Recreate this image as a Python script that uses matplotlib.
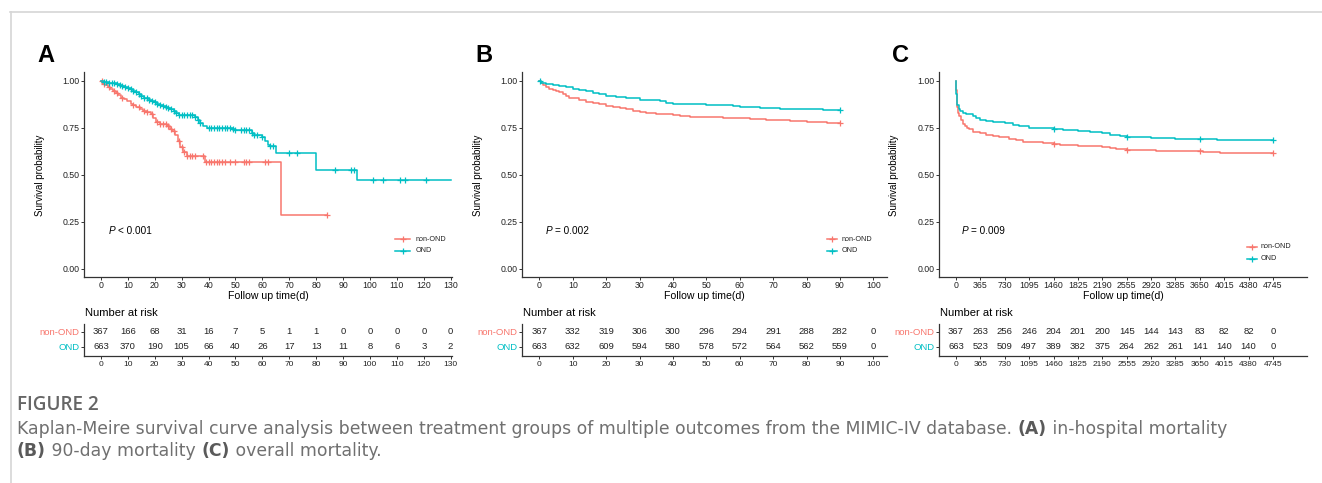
import numpy as np
import matplotlib
matplotlib.use("Agg")
import matplotlib.pyplot as plt
from matplotlib.lines import Line2D

plt.rcParams['font.family'] = ['Liberation Sans', 'DejaVu Sans']

RED = '#F8766D'
TEAL = '#00BFC4'
groups = ['non-OND', 'OND']

# ---------------- Panel A: in-hospital mortality ----------------
a_red_t = [0, 0.5, 1, 1.5, 2.5, 3.5, 4.5, 5.5, 6.5, 7.5, 8.5, 9.5, 11, 12, 13, 14.5, 15.5, 17, 18.5, 19.5,
           20.5, 22, 24.5, 25.5, 26.5, 27.5, 28.5, 29.5, 30.5, 32, 38.5, 67]
a_red_s = [1.0, 0.99, 0.98, 0.975, 0.965, 0.955, 0.945, 0.935, 0.925, 0.91, 0.90, 0.89, 0.875, 0.87, 0.86,
           0.85, 0.84, 0.835, 0.82, 0.80, 0.78, 0.77, 0.76, 0.745, 0.73, 0.71, 0.68, 0.645, 0.62, 0.60, 0.567, 0.285]
a_red_end = 84
a_red_cens = [0.3, 1, 3, 5, 6, 8, 12, 14, 16, 17, 19, 21, 22, 23, 24, 25, 26, 27, 29, 30, 31, 32, 33, 34, 35,
              38, 39, 40, 41, 42, 43, 44, 45, 46, 48, 50, 53, 54, 55, 61, 62, 84]
a_teal_t = [0, 1, 3, 5, 6, 7, 8, 9, 10, 11, 12, 13, 14, 15, 16, 17, 18, 19, 20, 21, 22, 23, 24, 25, 26, 27,
            28, 29, 35, 36, 37, 38, 39.5, 49, 50, 56, 57, 60, 61, 62, 63, 65, 80, 95]
a_teal_s = [1.0, 0.995, 0.99, 0.985, 0.98, 0.975, 0.97, 0.965, 0.96, 0.955, 0.945, 0.94, 0.93, 0.92, 0.91,
            0.905, 0.895, 0.89, 0.885, 0.875, 0.87, 0.865, 0.86, 0.855, 0.85, 0.84, 0.83, 0.815, 0.805, 0.79,
            0.775, 0.76, 0.75, 0.74, 0.735, 0.72, 0.71, 0.70, 0.68, 0.66, 0.65, 0.615, 0.525, 0.47]
a_teal_end = 130
a_teal_cens = [1, 2, 3, 4, 5, 6, 7, 8, 9, 10, 11, 12, 13, 14, 15, 16, 17, 18, 19, 20, 21, 22, 23, 24, 25, 26,
               27, 28, 29, 30, 31, 32, 33, 34, 35, 36, 37, 40, 41, 42, 43, 44, 45, 46, 47, 48, 49, 50, 52, 53,
               54, 55, 56, 57, 58, 60, 63, 64, 70, 73, 87, 93, 94, 101, 105, 111, 113, 121]
a_ticks = list(range(0, 131, 10))
a_risk_red = [367, 166, 68, 31, 16, 7, 5, 1, 1, 0, 0, 0, 0, 0]
a_risk_teal = [663, 370, 190, 105, 66, 40, 26, 17, 13, 11, 8, 6, 3, 2]
a_ptxt = '< 0.001'

# ---------------- Panel B: 90-day mortality ----------------
b_red_t = [0, 0.5, 1, 2, 3, 4, 5, 6, 7, 8, 9, 10, 12, 14, 16, 18, 20, 22, 24, 26, 28, 30, 32, 35, 38, 40, 42,
           45, 50, 55, 56, 60, 63, 66, 68, 72, 75, 80, 84, 86, 88]
b_red_s = [1.0, 0.985, 0.975, 0.965, 0.955, 0.95, 0.945, 0.94, 0.93, 0.92, 0.91, 0.905, 0.895, 0.885, 0.88,
           0.875, 0.865, 0.86, 0.855, 0.85, 0.84, 0.835, 0.83, 0.825, 0.82, 0.815, 0.81, 0.808, 0.805, 0.803,
           0.8, 0.8, 0.798, 0.795, 0.79, 0.788, 0.785, 0.782, 0.778, 0.775, 0.773]
b_red_end = 90
b_red_cens = [90]
b_teal_t = [0, 0.5, 1, 2, 4, 6, 8, 10, 12, 14, 16, 18, 20, 23, 26, 28, 30, 33, 36, 38, 40, 45, 50, 55, 58, 60,
            63, 66, 68, 72, 78, 82, 85, 88]
b_teal_s = [1.0, 0.99, 0.985, 0.98, 0.975, 0.97, 0.965, 0.955, 0.95, 0.945, 0.935, 0.93, 0.92, 0.915, 0.91,
            0.905, 0.897, 0.895, 0.89, 0.883, 0.878, 0.875, 0.87, 0.868, 0.865, 0.862, 0.858, 0.855, 0.852,
            0.85, 0.85, 0.848, 0.846, 0.845]
b_teal_end = 90
b_teal_cens = [0.1, 90]
b_ticks = list(range(0, 101, 10))
b_risk_red = [367, 332, 319, 306, 300, 296, 294, 291, 288, 282, 0]
b_risk_teal = [663, 632, 609, 594, 580, 578, 572, 564, 562, 559, 0]
b_ptxt = '= 0.002'

# ---------------- Panel C: overall mortality ----------------
c_red_t = [0, 5, 10, 20, 30, 50, 75, 100, 130, 160, 200, 250, 365, 450, 550, 650, 730, 800, 900, 1000, 1095,
           1300, 1460, 1550, 1700, 1825, 2000, 2190, 2300, 2400, 2555, 2800, 3000, 3285, 3500, 3700, 3950]
c_red_s = [1.0, 0.95, 0.9, 0.86, 0.83, 0.81, 0.79, 0.77, 0.76, 0.75, 0.74, 0.725, 0.72, 0.71, 0.705, 0.70,
           0.698, 0.69, 0.685, 0.675, 0.672, 0.67, 0.665, 0.66, 0.655, 0.652, 0.65, 0.647, 0.64, 0.635, 0.633,
           0.63, 0.628, 0.625, 0.623, 0.62, 0.613]
c_red_end = 4745
c_red_cens = [1460, 2555, 3650, 4745]
c_teal_t = [0, 5, 10, 20, 40, 60, 100, 150, 200, 250, 300, 365, 450, 550, 730, 850, 950, 1095, 1300, 1460,
            1600, 1825, 2000, 2190, 2300, 2450, 2555, 2700, 2920, 3285, 3500, 3700, 3900]
c_teal_s = [1.0, 0.93, 0.89, 0.87, 0.85, 0.84, 0.83, 0.825, 0.82, 0.81, 0.80, 0.79, 0.783, 0.778, 0.775,
            0.765, 0.757, 0.75, 0.748, 0.745, 0.737, 0.73, 0.725, 0.72, 0.712, 0.705, 0.702, 0.698, 0.695,
            0.692, 0.69, 0.687, 0.685]
c_teal_end = 4745
c_teal_cens = [1460, 2555, 3650, 4745]
c_ticks = list(range(0, 4746, 365))
c_risk_red = [367, 263, 256, 246, 204, 201, 200, 145, 144, 143, 83, 82, 82, 0]
c_risk_teal = [663, 523, 509, 497, 389, 382, 375, 264, 262, 261, 141, 140, 140, 0]
c_ptxt = '= 0.009'

caption_title = 'FIGURE 2'
caption_line1 = [('Kaplan-Meire survival curve analysis between treatment groups of multiple outcomes from the MIMIC-IV database. ', False),
                 ('(A)', True), (' in-hospital mortality', False)]
caption_line2 = [('(B)', True), (' 90-day mortality ', False), ('(C)', True), (' overall mortality.', False)]

W, H = 1322, 483
fig = plt.figure(figsize=(W / 100, H / 100), dpi=100)
renderer = fig.canvas.get_renderer()


def fx(px):
    return px / W


def fy(py):
    return 1 - py / H


def step_val(t_arr, s_arr, t):
    i = np.searchsorted(np.asarray(t_arr), t, side='right') - 1
    return np.asarray(s_arr)[max(i, 0)]


def panel(letter, left, right, xlim, ticks, curves, risk_red, risk_teal, ptxt, px, legend_pos, ylab_x):
    top, bot = 72, 277
    ax = fig.add_axes([fx(left), fy(bot), fx(right - left), (bot - top) / H])
    for (t, s, end, cens, col) in curves:
        tt = list(t) + [end]
        ss = list(s) + [s[-1]]
        ax.step(tt, ss, where='post', color=col, lw=1.1)
        cy = [step_val(t, s, c) for c in cens]
        ax.plot(cens, cy, ls='none', marker='+', ms=5, mew=0.9, color=col)
    ax.set_xlim(*xlim)
    ax.set_ylim(-0.045, 1.046)
    ax.set_xticks(ticks)
    ax.set_xticklabels([str(v) for v in ticks])
    ax.set_yticks([0, 0.25, 0.5, 0.75, 1.0])
    ax.set_yticklabels(['0.00', '0.25', '0.50', '0.75', '1.00'])
    for sp in ['top', 'right']:
        ax.spines[sp].set_visible(False)
    for sp in ['left', 'bottom']:
        ax.spines[sp].set_color('#333333')
        ax.spines[sp].set_linewidth(0.9)
    ax.tick_params(labelsize=6.3, length=2.2, width=0.7, color='#333333', pad=0.8, labelcolor='#222222')
    pt = ax.text(px, 0.2, 'P', style='italic', fontsize=7.2, va='center', ha='left')
    bb = pt.get_window_extent(renderer)
    ax.annotate(ptxt, xy=(px, 0.2), xycoords='data', xytext=(bb.width * 72 / 100 + 2.0, 0),
                textcoords='offset points', fontsize=7.2, va='center', ha='left')
    # legend
    lx0, lx1, tx, ry1, ry2 = legend_pos
    for (yy, col, lab) in [(ry1, RED, groups[0]), (ry2, TEAL, groups[1])]:
        ax.add_line(Line2D([lx0, lx1], [yy, yy], color=col, lw=1.1, transform=ax.transAxes))
        ax.plot([(lx0 + lx1) / 2], [yy], marker='+', ms=5, mew=0.9, color=col, transform=ax.transAxes,
                clip_on=False)
        ax.text(tx, yy, lab, fontsize=5.2, va='center', ha='left', transform=ax.transAxes, color='#222222')
    # labels
    fig.text(fx((left + right) / 2), fy(296), 'Follow up time(d)', fontsize=7.6, ha='center', va='center')
    fig.text(fx(ylab_x), fy(175), 'Survival probability', fontsize=7.0, ha='center', va='center',
             rotation=90)
    fig.text(fx(left - 47), fy(55), letter, fontsize=17, fontweight='bold', ha='left', va='center')

    # risk table
    tt_top, tt_bot = 324, 356
    rt = fig.add_axes([fx(left), fy(tt_bot), fx(right - left), (tt_bot - tt_top) / H])
    rt.set_xlim(*xlim)
    rt.set_ylim(-0.6, 1.533)
    for x, v in zip(ticks, risk_red):
        rt.text(x, 1, str(v), fontsize=6.8, ha='center', va='center', color='#222222')
    for x, v in zip(ticks, risk_teal):
        rt.text(x, 0, str(v), fontsize=6.8, ha='center', va='center', color='#222222')
    rt.set_xticks(ticks)
    rt.set_xticklabels([str(v) for v in ticks])
    rt.set_yticks([1, 0])
    rt.set_yticklabels(groups)
    rt.get_yticklabels()[0].set_color(RED)
    rt.get_yticklabels()[1].set_color(TEAL)
    for sp in ['top', 'right']:
        rt.spines[sp].set_visible(False)
    for sp in ['left', 'bottom']:
        rt.spines[sp].set_color('#333333')
        rt.spines[sp].set_linewidth(0.9)
    rt.tick_params(axis='x', labelsize=6.0, length=2.2, width=0.7, color='#333333', pad=1.2,
                   labelcolor='#222222')
    rt.tick_params(axis='y', labelsize=6.8, length=2.2, width=0.7, color='#333333', pad=1.0)
    fig.text(fx(left + 1), fy(313), 'Number at risk', fontsize=8, ha='left', va='center')
    return ax


panel('A', 84, 452, (-6.3, 130.5), a_ticks,
      [(a_red_t, a_red_s, a_red_end, a_red_cens, RED), (a_teal_t, a_teal_s, a_teal_end, a_teal_cens, TEAL)],
      a_risk_red, a_risk_teal, a_ptxt, 3, (0.845, 0.886, 0.9, 0.185, 0.127), 40)
panel('B', 522, 887, (-5.2, 104.1), b_ticks,
      [(b_red_t, b_red_s, b_red_end, b_red_cens, RED), (b_teal_t, b_teal_s, b_teal_end, b_teal_cens, TEAL)],
      b_risk_red, b_risk_teal, b_ptxt, 2, (0.835, 0.862, 0.876, 0.185, 0.128), 478)
panel('C', 939, 1307, (-254, 5254), c_ticks,
      [(c_red_t, c_red_s, c_red_end, c_red_cens, RED), (c_teal_t, c_teal_s, c_teal_end, c_teal_cens, TEAL)],
      c_risk_red, c_risk_teal, c_ptxt, 85, (0.836, 0.864, 0.874, 0.148, 0.089), 894)

# frame lines
fig.add_artist(Line2D([fx(10), fx(1322)], [fy(11.5), fy(11.5)], color='#d6d6d6', lw=1.2))
fig.add_artist(Line2D([fx(10.5), fx(10.5)], [fy(11.5), fy(483)], color='#d6d6d6', lw=1.2))

# caption
cap_font = ['DejaVu Sans']


def write_line(parts, y, size):
    x = 17
    arts = []
    for txt, bold in parts:
        t = fig.text(x / W, fy(y), txt, fontsize=size, color='#5a5a5a' if bold else '#707070', ha='left',
                     va='center', fontweight='bold' if bold else 'normal', family=cap_font)
        x = t.get_window_extent(renderer).x1
        arts.append(t)
    return x, arts


# fit the caption size to the reference line width (line 1 spans ~1209 px)
end, arts = write_line(caption_line1, 429, 10.0)
cap_size = 10.0 * (1226 - 17) / (end - 17)
for a in arts:
    a.remove()
write_line(caption_line1, 429, cap_size)
write_line(caption_line2, 451, cap_size)

ft = fig.text(fx(17), fy(405), caption_title, fontsize=10, color='#666666', ha='left', va='center',
              fontweight='normal', family=['Open Sans', 'DejaVu Sans'])
ft.set_fontweight('semibold')
w = ft.get_window_extent(renderer).width
ft.set_fontsize(10 * 82 / w)

fig.savefig('out.png', dpi=100)
